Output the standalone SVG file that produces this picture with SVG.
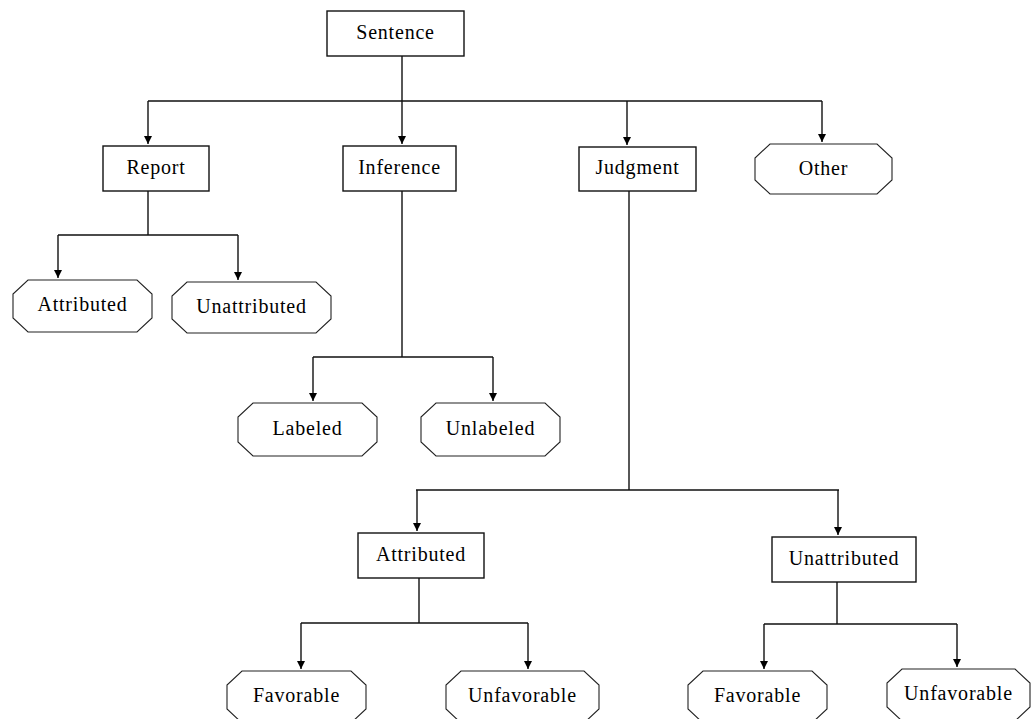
<svg xmlns="http://www.w3.org/2000/svg" width="1033" height="719" viewBox="0 0 1033 719">
  <style>
    .box { fill: #fff; stroke: #111; stroke-width: 1.4; }
    .oct { fill: #fff; stroke: #222; stroke-width: 1.1; }
    .lbl { font-family: "Liberation Serif", "Times New Roman", serif; font-size: 20px; letter-spacing: 0.8px; fill: #000; text-anchor: middle; }
    .wire { fill: none; stroke: #111; stroke-width: 1.4; }
  </style>
  <defs>
    <marker id="arr" viewBox="0 -4 8 8" refX="8" refY="0" markerWidth="8" markerHeight="8" markerUnits="userSpaceOnUse" orient="auto">
      <path d="M0,-4 L8,0 L0,4 z" fill="#000"/>
    </marker>
  </defs>
  <rect width="1033" height="719" fill="#fff"/>

  <g id="connectors">
    <path class="wire" d="M402,56 V101 M148,101 H822"/>
    <path class="wire" d="M148,101 V144" marker-end="url(#arr)"/>
    <path class="wire" d="M402,101 V144" marker-end="url(#arr)"/>
    <path class="wire" d="M627,101 V145" marker-end="url(#arr)"/>
    <path class="wire" d="M822,101 V142" marker-end="url(#arr)"/>

    <path class="wire" d="M148,191 V235 M58,235 H238"/>
    <path class="wire" d="M58,235 V278" marker-end="url(#arr)"/>
    <path class="wire" d="M238,235 V280" marker-end="url(#arr)"/>

    <path class="wire" d="M402,191 V357 M313,357 H493"/>
    <path class="wire" d="M313,357 V401" marker-end="url(#arr)"/>
    <path class="wire" d="M493,357 V401" marker-end="url(#arr)"/>

    <path class="wire" d="M629,191 V490 M416,490 H839"/>
    <path class="wire" d="M417,490 V531" marker-end="url(#arr)"/>
    <path class="wire" d="M838,490 V535" marker-end="url(#arr)"/>

    <path class="wire" d="M419,578 V623 M301,623 H528"/>
    <path class="wire" d="M301,623 V669" marker-end="url(#arr)"/>
    <path class="wire" d="M528,623 V669" marker-end="url(#arr)"/>

    <path class="wire" d="M837,582 V624 M764,624 H957"/>
    <path class="wire" d="M764,624 V669" marker-end="url(#arr)"/>
    <path class="wire" d="M957,624 V667" marker-end="url(#arr)"/>
  </g>

  <g id="sentence">
    <rect class="box" x="327" y="11" width="137" height="45"/>
    <text class="lbl" x="395.5" y="39">Sentence</text>
  </g>
  <g id="report">
    <rect class="box" x="103" y="146" width="106" height="45"/>
    <text class="lbl" x="156" y="174">Report</text>
  </g>
  <g id="inference">
    <rect class="box" x="343" y="146" width="113" height="45"/>
    <text class="lbl" x="399.5" y="174">Inference</text>
  </g>
  <g id="judgment">
    <rect class="box" x="579" y="147" width="117" height="44"/>
    <text class="lbl" x="637.5" y="174">Judgment</text>
  </g>
  <g id="other">
    <polygon class="oct" points="770,144 877,144 892,158 892,180 877,194 770,194 755,180 755,158"/>
    <text class="lbl" x="823.5" y="175">Other</text>
  </g>
  <g id="report-attributed">
    <polygon class="oct" points="28,280 137,280 152,294 152,318 137,332 28,332 13,318 13,294"/>
    <text class="lbl" x="82.5" y="311">Attributed</text>
  </g>
  <g id="report-unattributed">
    <polygon class="oct" points="187,282 316,282 331,296 331,319 316,333 187,333 172,319 172,296"/>
    <text class="lbl" x="251.5" y="313">Unattributed</text>
  </g>
  <g id="labeled">
    <polygon class="oct" points="253,403 362,403 377,417 377,442 362,456 253,456 238,442 238,417"/>
    <text class="lbl" x="307.5" y="435">Labeled</text>
  </g>
  <g id="unlabeled">
    <polygon class="oct" points="436,403 545,403 560,417 560,442 545,456 436,456 421,442 421,417"/>
    <text class="lbl" x="490.5" y="435">Unlabeled</text>
  </g>
  <g id="judgment-attributed">
    <rect class="box" x="358" y="533" width="126" height="45"/>
    <text class="lbl" x="421" y="561">Attributed</text>
  </g>
  <g id="judgment-unattributed">
    <rect class="box" x="772" y="537" width="144" height="45"/>
    <text class="lbl" x="844" y="565">Unattributed</text>
  </g>
  <g id="attr-favorable">
    <polygon class="oct" points="242,671 351,671 366,685 366,709 351,723 242,723 227,709 227,685"/>
    <text class="lbl" x="296.5" y="702">Favorable</text>
  </g>
  <g id="attr-unfavorable">
    <polygon class="oct" points="461,671 584,671 599,685 599,709 584,723 461,723 446,709 446,685"/>
    <text class="lbl" x="522.5" y="702">Unfavorable</text>
  </g>
  <g id="unattr-favorable">
    <polygon class="oct" points="703,671 812,671 827,685 827,709 812,723 703,723 688,709 688,685"/>
    <text class="lbl" x="757.5" y="702">Favorable</text>
  </g>
  <g id="unattr-unfavorable">
    <polygon class="oct" points="902,669 1015,669 1030,683 1030,707 1015,721 902,721 887,707 887,683"/>
    <text class="lbl" x="958.5" y="700">Unfavorable</text>
  </g>
</svg>
